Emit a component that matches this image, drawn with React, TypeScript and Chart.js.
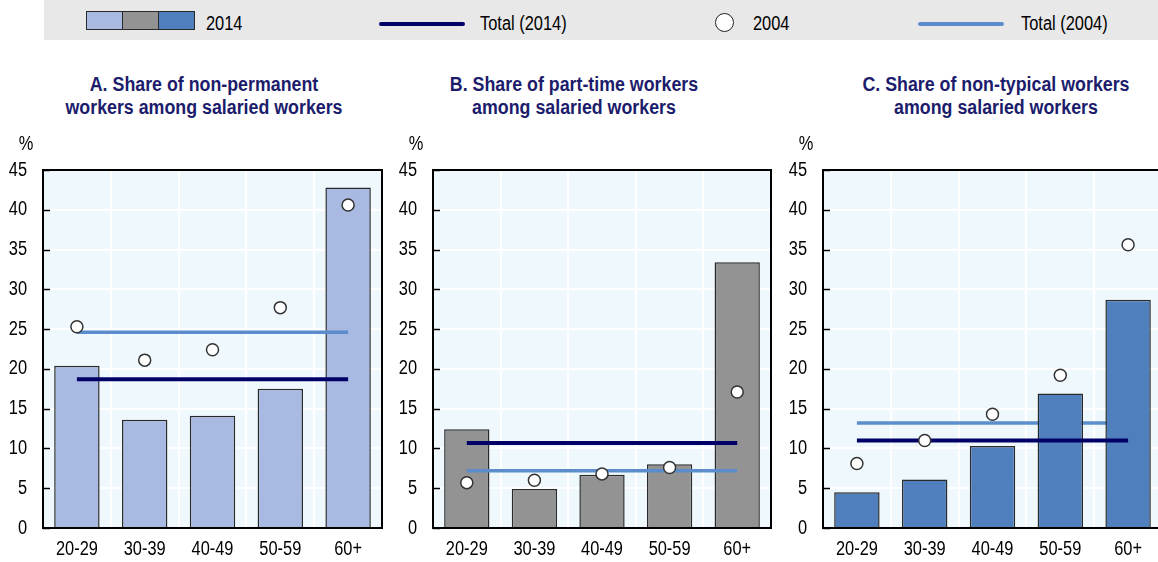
import React, { useEffect, useRef } from "react";
import { Chart, registerables } from "chart.js";

Chart.register(...registerables);

// ---------- data ----------
const categories = ["20-29", "30-39", "40-49", "50-59", "60+"];
const yTicks = [0, 5, 10, 15, 20, 25, 30, 35, 40, 45];

const nonPermanent2014 = [20.4, 13.6, 14.1, 17.5, 42.8];
const nonPermanent2004 = [25.3, 21.1, 22.4, 27.7, 40.6];
const nonPermanentTotal2014 = 18.7;
const nonPermanentTotal2004 = 24.6;

const partTime2014 = [12.4, 4.9, 6.7, 8.0, 33.4];
const partTime2004 = [5.7, 6.0, 6.8, 7.6, 17.1];
const partTimeTotal2014 = 10.7;
const partTimeTotal2004 = 7.2;

const nonTypical2014 = [4.5, 6.1, 10.3, 16.9, 28.7];
const nonTypical2004 = [8.1, 11.0, 14.3, 19.2, 35.6];
const nonTypicalTotal2014 = 11.0;
const nonTypicalTotal2004 = 13.2;

const legendLabels = ["2014", "Total (2014)", "2004", "Total (2004)"];
const panelTitles = [
  ["A. Share of non-permanent", "workers among salaried workers"],
  ["B. Share of part-time workers", "among salaried workers"],
  ["C. Share of non-typical workers", "among salaried workers"],
];

// ---------- styles ----------
const FONT = "'Liberation Sans', Arial, sans-serif";
const NARROW = 0.82;
const TITLE_NARROW = 0.89;
const NAVY = "#000066";
const LIGHT = "#5B8CCB";
const BAR_COLORS = ["#A8B9E2", "#939393", "#4F80BD"];
const PLOT_BG = "#EFF9FD";
const TITLE_COLOR = "#1C1C6C";

type PanelProps = {
  left: number;
  bars: number[];
  points: number[];
  total2014: number;
  total2004: number;
  color: string;
  lightBehind: boolean;
  padRight: number;
};

function narrowText(ctx: CanvasRenderingContext2D, text: string, x: number, y: number) {
  ctx.save();
  ctx.translate(x, y);
  ctx.scale(NARROW, 1);
  ctx.fillText(text, 0, 0);
  ctx.restore();
}

const framePlugin = {
  id: "frame",
  beforeDraw(chart: any) {
    const { ctx, chartArea } = chart;
    ctx.save();
    ctx.fillStyle = PLOT_BG;
    ctx.fillRect(chartArea.left, chartArea.top, chartArea.right - chartArea.left, chartArea.bottom - chartArea.top);
    ctx.restore();
  },
  afterDraw(chart: any) {
    const { ctx, chartArea } = chart;
    const y = chart.scales.y;
    const x = chart.scales.x;
    ctx.save();
    ctx.strokeStyle = "#000";
    ctx.lineWidth = 2;
    ctx.strokeRect(chartArea.left, chartArea.top, chartArea.right - chartArea.left, chartArea.bottom - chartArea.top);
    ctx.lineWidth = 1.5;
    yTicks.forEach((t) => {
      const py = Math.round(y.getPixelForValue(t)) + 0.5;
      ctx.beginPath();
      ctx.moveTo(chartArea.left, py);
      ctx.lineTo(chartArea.left + 7, py);
      ctx.stroke();
    });
    ctx.fillStyle = "#000";
    ctx.font = "20px " + FONT;
    ctx.textBaseline = "middle";
    ctx.textAlign = "right";
    yTicks.forEach((t) => {
      narrowText(ctx, String(t), chartArea.left - 16, y.getPixelForValue(t));
    });
    ctx.textAlign = "center";
    categories.forEach((c, i) => {
      narrowText(ctx, c, x.getPixelForValue(i), chartArea.bottom + 21);
    });
    narrowText(ctx, "%", 26, 14);
    ctx.restore();
  },
};

function Panel(p: PanelProps) {
  const ref = useRef<HTMLCanvasElement>(null);
  useEffect(() => {
    if (!ref.current) return;
    const chart = new Chart(ref.current, {
      type: "bar",
      data: {
        labels: categories,
        datasets: [
          {
            type: "bar",
            label: "2014",
            data: p.bars,
            backgroundColor: p.color,
            borderColor: "#2A2A2A",
            borderWidth: 1.5,
            barPercentage: 0.67,
            categoryPercentage: 1,
            order: 3,
          } as any,
          {
            type: "line",
            label: "Total (2014)",
            data: categories.map(() => p.total2014),
            borderColor: NAVY,
            borderWidth: 4,
            pointRadius: 0,
            fill: false,
            order: 1,
          },
          {
            type: "line",
            label: "Total (2004)",
            data: categories.map(() => p.total2004),
            borderColor: LIGHT,
            borderWidth: 3.5,
            pointRadius: 0,
            fill: false,
            order: p.lightBehind ? 4 : 2,
          },
          {
            type: "line",
            label: "2004",
            data: p.points,
            showLine: false,
            pointRadius: 6,
            pointBackgroundColor: "#FFFFFF",
            pointBorderColor: "#333333",
            pointBorderWidth: 1.5,
            order: 0,
          },
        ],
      },
      options: {
        responsive: false,
        animation: false,
        layout: { padding: { top: 40, right: p.padRight, left: 0, bottom: 0 } },
        plugins: { legend: { display: false }, tooltip: { enabled: false } },
        scales: {
          x: {
            type: "category",
            offset: true,
            grid: { display: true, color: "#FFFFFF", lineWidth: 2, offset: true, drawTicks: false },
            border: { display: false },
            ticks: { display: false },
            afterFit: (s: any) => {
              s.height = 34;
            },
          },
          y: {
            min: 0,
            max: 45,
            ticks: { stepSize: 5, display: false },
            grid: { color: "#FFFFFF", lineWidth: 2, drawTicks: false },
            border: { display: false },
            afterFit: (s: any) => {
              s.width = 43;
            },
          },
        },
      },
      plugins: [framePlugin],
    });
    return () => chart.destroy();
  }, []);
  return (
    <canvas
      ref={ref}
      width={390}
      height={432}
      style={{ position: "absolute", left: p.left, top: 130, width: 390, height: 432 }}
    />
  );
}

const textBase: React.CSSProperties = {
  position: "absolute",
  fontFamily: FONT,
  fontSize: 20,
  color: "#000",
  lineHeight: "24px",
  whiteSpace: "nowrap",
  transform: `scaleX(${NARROW})`,
  transformOrigin: "left center",
};

function Title({ cx, lines }: { cx: number; lines: string[] }) {
  return (
    <div
      style={{
        position: "absolute",
        left: cx - 250,
        width: 500,
        top: 73,
        textAlign: "center",
        fontFamily: FONT,
        fontWeight: "bold",
        fontSize: 20,
        lineHeight: "23px",
        color: TITLE_COLOR,
        transform: `scaleX(${TITLE_NARROW})`,
        transformOrigin: "center center",
      }}
    >
      {lines.map((l, i) => (
        <div key={i}>{l}</div>
      ))}
    </div>
  );
}

export default function App() {
  return (
    <div
      style={{
        position: "absolute",
        left: 0,
        top: 0,
        width: 1158,
        height: 562,
        overflow: "hidden",
        background: "#FFFFFF",
      }}
    >
      {/* legend */}
      <div style={{ position: "absolute", left: 44, top: 0, width: 1114, height: 40, background: "#E8E8E8" }} />
      {BAR_COLORS.map((c, i) => (
        <div
          key={i}
          style={{
            position: "absolute",
            left: 86 + i * 36,
            top: 11,
            width: 37,
            height: 19,
            boxSizing: "border-box",
            background: c,
            border: "1.5px solid #2A2A2A",
          }}
        />
      ))}
      <div style={{ ...textBase, left: 206, top: 11 }}>{legendLabels[0]}</div>
      <div style={{ position: "absolute", left: 379, top: 22, width: 86, height: 4, background: NAVY, borderRadius: 2 }} />
      <div style={{ ...textBase, left: 480, top: 11 }}>{legendLabels[1]}</div>
      <div
        style={{
          position: "absolute",
          left: 715,
          top: 13,
          width: 19,
          height: 19,
          boxSizing: "border-box",
          borderRadius: "50%",
          background: "#FFF",
          border: "1.5px solid #222",
        }}
      />
      <div style={{ ...textBase, left: 753, top: 11 }}>{legendLabels[2]}</div>
      <div style={{ position: "absolute", left: 918, top: 22, width: 86, height: 4, background: LIGHT, borderRadius: 2 }} />
      <div style={{ ...textBase, left: 1021, top: 11 }}>{legendLabels[3]}</div>

      {/* titles */}
      <Title cx={204} lines={panelTitles[0]} />
      <Title cx={574} lines={panelTitles[1]} />
      <Title cx={996} lines={panelTitles[2]} />

      {/* panels */}
      <Panel
        left={0}
        bars={nonPermanent2014}
        points={nonPermanent2004}
        total2014={nonPermanentTotal2014}
        total2004={nonPermanentTotal2004}
        color={BAR_COLORS[0]}
        lightBehind={false}
        padRight={8}
      />
      <Panel
        left={390}
        bars={partTime2014}
        points={partTime2004}
        total2014={partTimeTotal2014}
        total2004={partTimeTotal2004}
        color={BAR_COLORS[1]}
        lightBehind={false}
        padRight={9}
      />
      <Panel
        left={780}
        bars={nonTypical2014}
        points={nonTypical2004}
        total2014={nonTypicalTotal2014}
        total2004={nonTypicalTotal2004}
        color={BAR_COLORS[2]}
        lightBehind={true}
        padRight={8}
      />
    </div>
  );
}
